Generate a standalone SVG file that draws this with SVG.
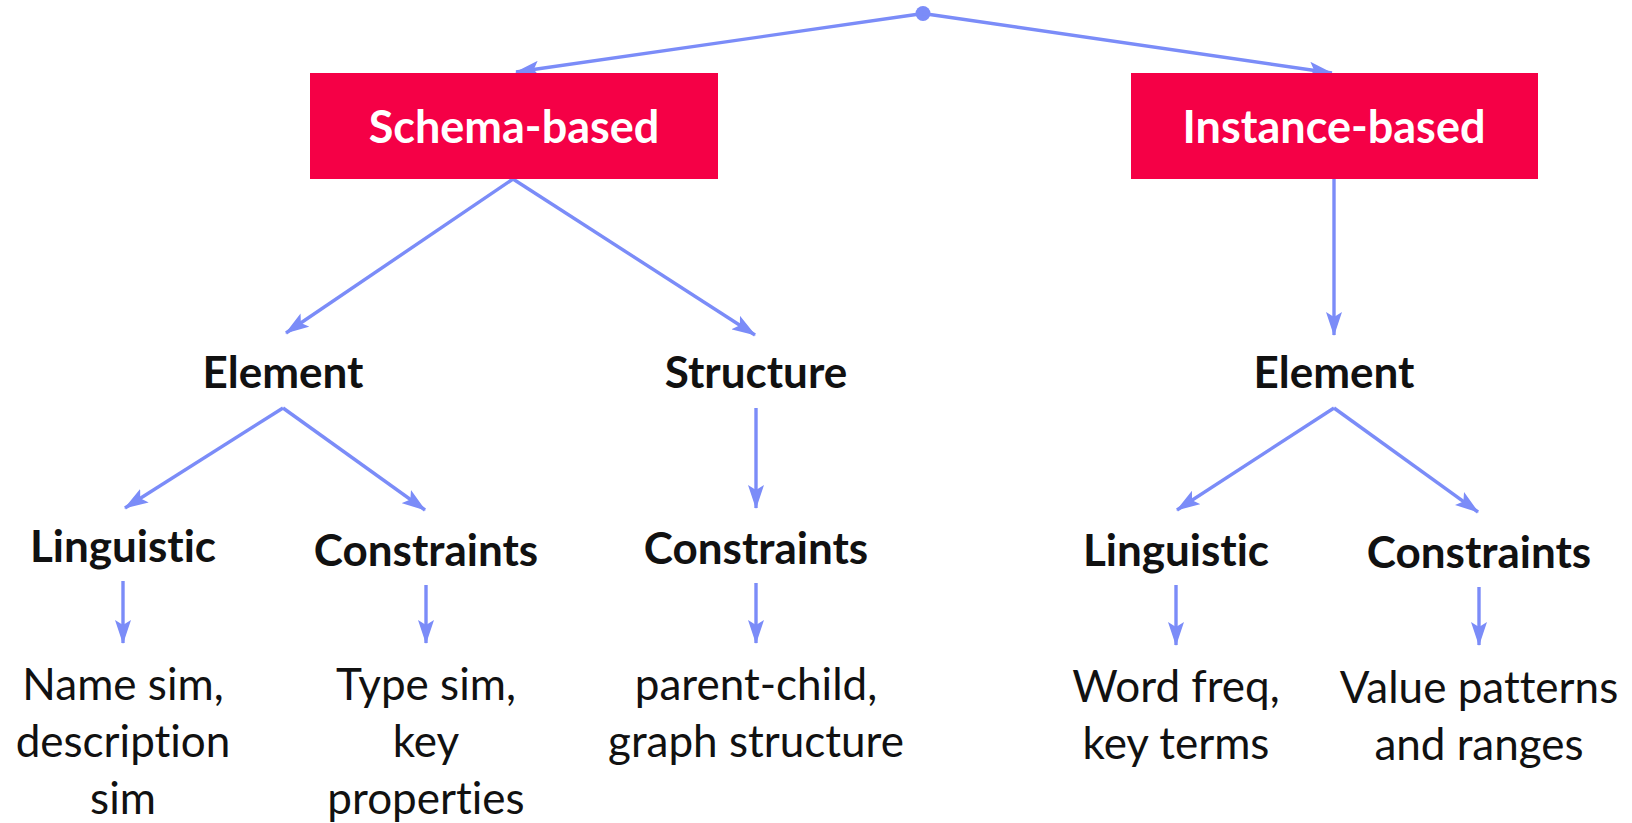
<svg xmlns="http://www.w3.org/2000/svg" width="1632" height="823" viewBox="0 0 1632 823">
<style>
text{font-variant-ligatures:none;font-feature-settings:"liga" 0,"dlig" 0}
.edge{stroke:#7B8CF8;stroke-width:3.4;fill:none;marker-end:url(#ah)}
.box{fill:#F50046}
.bt{font-family:Lato,"Open Sans",sans-serif;font-weight:bold;font-size:45px;fill:#fff;text-anchor:middle}
.h{font-family:Lato,"Open Sans",sans-serif;font-weight:bold;font-size:44px;fill:#111;text-anchor:middle}
.t{font-family:Lato,"Open Sans",sans-serif;font-size:44px;fill:#111;text-anchor:middle}
</style>
<defs>
<marker id="ah" viewBox="0 0 24 16" refX="23" refY="8" markerWidth="24" markerHeight="16" markerUnits="userSpaceOnUse" orient="auto">
<path d="M0,0 L24,8 L0,16 L5,8 Z" fill="#7B8CF8"/>
</marker>
</defs>
<rect width="1632" height="823" fill="#fff"/>
<g id="connectors">
<circle cx="923" cy="13.5" r="7.5" fill="#7B8CF8"/>
<line class="edge" x1="923" y1="13.5" x2="516" y2="72"/>
<line class="edge" x1="923" y1="13.5" x2="1332" y2="73"/>
<line class="edge" x1="513" y1="179" x2="286" y2="333"/>
<line class="edge" x1="513" y1="179" x2="755" y2="335"/>
<line class="edge" x1="1334" y1="179" x2="1334" y2="335"/>
<line class="edge" x1="283" y1="408" x2="125" y2="508"/>
<line class="edge" x1="283" y1="408" x2="425" y2="510"/>
<line class="edge" x1="756" y1="408" x2="756" y2="508"/>
<line class="edge" x1="1334" y1="408" x2="1177" y2="510"/>
<line class="edge" x1="1334" y1="408" x2="1478" y2="512"/>
<line class="edge" x1="123" y1="581" x2="123" y2="643"/>
<line class="edge" x1="426" y1="585" x2="426" y2="643"/>
<line class="edge" x1="756" y1="583" x2="756" y2="643"/>
<line class="edge" x1="1176" y1="585" x2="1176" y2="645"/>
<line class="edge" x1="1479" y1="587" x2="1479" y2="645"/>
</g>
<g id="schema"><rect class="box" x="310" y="73" width="408" height="106"/><text class="bt" x="514" y="143">Schema-based</text></g>
<g id="instance"><rect class="box" x="1131" y="73" width="407" height="106"/><text class="bt" x="1334" y="143">Instance-based</text></g>
<g id="element-s"><text class="h" x="283" y="388">Element</text></g>
<g id="structure"><text class="h" x="756" y="388">Structure</text></g>
<g id="element-i"><text class="h" x="1334" y="388">Element</text></g>
<g id="ling-s"><text class="h" x="123" y="562">Linguistic</text></g>
<g id="cons-s"><text class="h" x="426" y="566">Constraints</text></g>
<g id="cons-st"><text class="h" x="756" y="564">Constraints</text></g>
<g id="ling-i"><text class="h" x="1176" y="566">Linguistic</text></g>
<g id="cons-i"><text class="h" x="1479" y="568">Constraints</text></g>
<g id="leaf1"><text class="t" x="123" y="700">Name sim,</text><text class="t" x="123" y="757">description</text><text class="t" x="123" y="814">sim</text></g>
<g id="leaf2"><text class="t" x="426" y="700">Type sim,</text><text class="t" x="426" y="757">key</text><text class="t" x="426" y="814">properties</text></g>
<g id="leaf3"><text class="t" x="756" y="700">parent-child,</text><text class="t" x="756" y="757">graph structure</text></g>
<g id="leaf4"><text class="t" x="1176" y="702">Word freq,</text><text class="t" x="1176" y="759">key terms</text></g>
<g id="leaf5"><text class="t" x="1479" y="703">Value patterns</text><text class="t" x="1479" y="760">and ranges</text></g>
</svg>
